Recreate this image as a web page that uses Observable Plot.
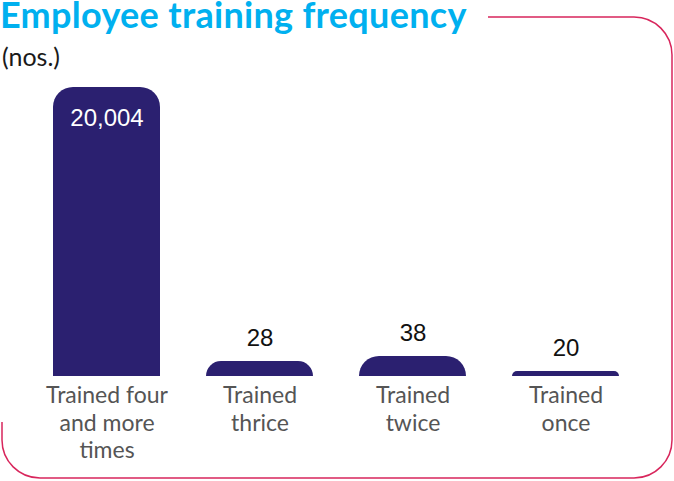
<!DOCTYPE html>
<html>
<head>
<meta charset="utf-8">
<script src="https://cdn.jsdelivr.net/npm/d3@7"></script>
<script src="https://cdn.jsdelivr.net/npm/@observablehq/plot@0.6"></script>
<style>
  html, body { margin: 0; padding: 0; background: #fff; }
  #wrap { position: relative; width: 674px; height: 481px; overflow: hidden; }
  #title { position: absolute; left: 0; top: 0; font-family: Lato, sans-serif; font-weight: 700;
           font-size: 36px; line-height: 28px; color: #00b0ef; white-space: nowrap; letter-spacing: 0.3px; }
  #subtitle { position: absolute; left: 2px; top: 43px; font-family: Lato, sans-serif; font-size: 25px;
              line-height: 26px; color: #1a1a1a; }
  #chart { position: absolute; left: 0; top: 70px; }
  #frame { position: absolute; left: 0; top: 0; pointer-events: none; }
</style>
</head>
<body>
<div id="wrap">
  <svg id="frame" width="674" height="481"></svg>
  <div id="title">Employee training frequency</div>
  <div id="subtitle">(nos.)</div>
  <div id="chart"></div>
</div>
<script>
const categories = ["Trained four and more times", "Trained thrice", "Trained twice", "Trained once"];
const tickLabels = ["Trained four\nand more\ntimes", "Trained\nthrice", "Trained\ntwice", "Trained\nonce"];
const values = [20004, 28, 38, 20];
const valueLabels = ["20,004", "28", "38", "20"];

const data = categories.map((c, i) => ({category: c, value: values[i], label: valueLabels[i]}));
const big = data.filter(d => d.value >= 1000);
const small = data.filter(d => d.value < 1000);

// The reference draws the bars on a non-linear (broken) scale so the tiny counts stay visible.
const yDomain = [0, ...[...values].sort((a, b) => a - b)];
const yRange = [306, 301, 291, 286, 17];

const chart = Plot.plot({
  width: 674,
  height: 411,
  marginLeft: 53,
  marginRight: 54,
  marginTop: 0,
  marginBottom: 105,
  style: {fontFamily: "Lato, sans-serif", background: "transparent"},
  x: {domain: categories, paddingInner: 0.3, paddingOuter: 0, label: null},
  y: {type: "linear", domain: yDomain, range: yRange, axis: null},
  marks: [
    Plot.barY(data, {x: "category", y: "value", fill: "#2b2070", ry1: 20}),
    Plot.text(big, {x: "category", y: "value", text: "label", fill: "#ffffff", dy: 31,
      fontSize: 24, fontFamily: "'Liberation Sans', Arial, sans-serif"}),
    Plot.text(small, {x: "category", y: "value", text: "label", fill: "#111111", dy: -23,
      fontSize: 24, fontFamily: "'Liberation Sans', Arial, sans-serif"}),
    Plot.axisX({tickSize: 0, tickPadding: 7, fontSize: 23, lineHeight: 1.2, color: "#555555",
      label: null, tickFormat: d => tickLabels[categories.indexOf(d)]})
  ]
});
document.getElementById("chart").appendChild(chart);

// decorative rounded frame
const frame = d3.select("#frame");
frame.append("path")
  .attr("d", "M488,17 H634 A38,38 0 0 1 672,55 V440 A38,38 0 0 1 634,478 H40 A38,38 0 0 1 2,440 V422")
  .attr("fill", "none")
  .attr("stroke", "#d8265c")
  .attr("stroke-width", 1.5);
</script>
</body>
</html>
